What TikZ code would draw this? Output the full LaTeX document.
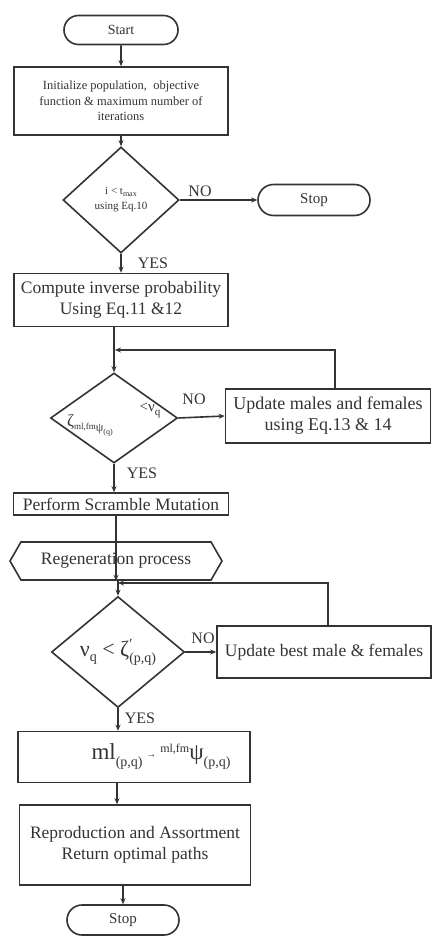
\documentclass[tikz,border=0pt]{standalone}
\usepackage{fontspec}
\setmainfont{Liberation Serif}
\usetikzlibrary{shapes.geometric,shapes.misc,shapes.symbols,arrows.meta}
\newcommand{\fs}[1]{\fontsize{#1}{#1}\selectfont}
\begin{document}
\begin{tikzpicture}[x=1pt,y=-1pt,
  line/.style={draw=black!80, line width=1.6pt},
  arr/.style={line, -{Stealth[length=6pt,width=5pt]}},
  term/.style={rounded rectangle, line, inner sep=0pt, text=black!80},
  proc/.style={rectangle, line, inner sep=1pt, align=center, text=black!80},
  dec/.style={diamond, line, inner sep=0pt, align=center, text=black!80},
  lbl/.style={inner sep=0pt, text=black!80, font=\fs{16}}]
\useasboundingbox (0,0) rectangle (431,936);

% main column
\node[term, minimum width=114pt, minimum height=29pt, font=\fs{14}] (start) at (121,30) {Start};
\node[proc, minimum width=214pt, minimum height=68pt, font=\fs{12.5}, align=center] (init) at (121,101)
  {Initialize population,\ \ objective\\[3pt] function \& maximum number of\\[3pt] iterations};
\node[dec, minimum width=116pt, minimum height=106pt, font=\fs{11}] (d1) at (121,200)
  {i < t\raisebox{-2pt}{\fs{8}max}\\[4pt]using Eq.10};
\node[term, minimum width=112pt, minimum height=31pt, font=\fs{15}] (stop1) at (314,200) {Stop};
\node[proc, minimum width=214pt, minimum height=53pt, font=\fs{17.5}] (comp) at (121,300)
  {Compute inverse probability\\[3pt]Using Eq.11 \&12};
\node[dec, minimum width=127pt, minimum height=90pt] (d2) at (114,418) {};
\node[inner sep=0pt, text=black!80, font=\fs{17}] (d2a) at (90,425)
  {ζ\raisebox{-3pt}{\fs{9}ml,fm}\raisebox{-5pt}{\fs{12}ψ\raisebox{-3pt}{\fs{8}(q)}}};
\node[inner sep=0pt, text=black!80, font=\fs{15}] (d2b) at (150,410) {<ν\raisebox{-4pt}{\fs{11}q}};
\node[proc, minimum width=205pt, minimum height=54pt, font=\fs{18}] (upd1) at (328,416)
  {Update males and females\\[3pt]using Eq.13 \& 14};
\node[proc, minimum width=215pt, minimum height=22pt, inner sep=0pt, font=\fs{17.5}] (perf) at (121,504)
  {Perform Scramble Mutation};
\node[signal, signal to=east and west, signal pointer angle=120, line, text=black!80,
  minimum width=212pt, minimum height=38pt, inner sep=0pt, font=\fs{17.5}] (regen) at (116,561)
  {Regeneration process};
\node[dec, minimum width=133pt, minimum height=111pt, font=\fs{22}] (d3) at (118,652)
  {ν\raisebox{-5pt}{\fs{14}q} < ζ\rlap{\raisebox{8pt}{\fs{14}′}}\raisebox{-6pt}{\fs{14}(p,q)}};
\node[proc, minimum width=214pt, minimum height=52pt, font=\fs{17.5}] (upd2) at (324,652)
  {Update best male \& females};
\node[proc, minimum width=232pt, minimum height=51pt, font=\fs{23}] (ml) at (134,757)
  {\hspace{54pt}ml\raisebox{-7pt}{\fs{14}(p,q)}\,\raisebox{2pt}{\fs{10}→}\,\raisebox{7pt}{\fs{12}ml,fm}ψ\raisebox{-7pt}{\fs{14}(p,q)}};
\node[proc, minimum width=231pt, minimum height=80pt, font=\fs{17.5}] (repro) at (135,845)
  {Reproduction and Assortment\\[3pt]Return optimal paths};
\node[term, minimum width=112pt, minimum height=30pt, font=\fs{15}] (stop2) at (123,920) {Stop};

% loop-back corners and connector columns
\coordinate (j1) at (115,350);
\coordinate (j2) at (118,583);
\coordinate (c117) at (117,0);

% labels
\node[lbl] (no1) at (200,191) {NO};
\node[lbl] (yes1) at (153,263) {YES};
\node[lbl] (no2) at (194,399) {NO};
\node[lbl] (yes2) at (142,473) {YES};
\node[lbl] (no3) at (203,638) {NO};
\node[lbl] (yes3) at (140,718) {YES};

% connectors
\draw[arr] (start) -- (init);
\draw[arr] (init.south -| d1.north) -- (d1.north);
\draw[arr] (d1.south) -- (comp.north -| d1.south);
\draw[arr] (d1.east) -- (stop1.west);
\draw[arr] (comp.south -| d2.north) -- (d2.north);
\draw[arr] ([xshift=7pt]upd1.north) |- (j1);
\draw[arr] (d2.east) -- (upd1.west);
\draw[arr] (d2.south) -- (perf.north -| d2.south);
\draw[arr] (perf.south -| regen.south) -- (regen.south);
\draw[arr] (regen.south -| d3.north) -- (d3.north);
\draw[arr] ([xshift=4pt]upd2.north) |- (j2);
\draw[arr] (d3.east) -- (upd2.west);
\draw[arr] (d3.south) -- (ml.north -| d3.south);
\draw[arr] (ml.south -| c117) -- (repro.north -| c117);
\draw[arr] (repro.south -| stop2.north) -- (stop2.north);
\end{tikzpicture}
\end{document}
